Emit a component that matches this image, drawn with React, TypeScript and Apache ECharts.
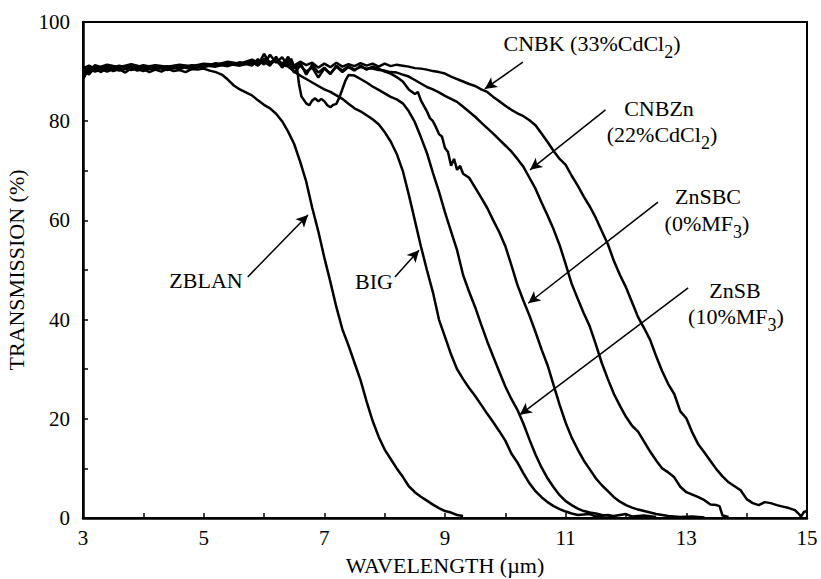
import React, { useEffect, useRef } from "react";
import * as echarts from "echarts";

type P = [number, number];

const X_TICKS = { min: 3, max: 15, interval: 2 };
const Y_TICKS = { min: 0, max: 100, interval: 20 };

const ZBLAN: P[] = [
  [3.0, 88.6], [3.05, 90.2], [3.1, 89.8], [3.2, 90.6], [3.3, 89.9], [3.4, 90.8], [3.5, 90.1], [3.6, 90.5],
  [3.7, 89.8], [3.8, 90.7], [3.9, 90.2], [4.0, 90.6], [4.1, 89.9], [4.2, 90.4], [4.3, 90.0], [4.4, 90.6],
  [4.5, 90.1], [4.6, 90.3], [4.7, 89.9], [4.8, 90.5], [4.9, 90.4], [5.0, 90.6], [5.1, 90.2], [5.2, 89.9],
  [5.3, 89.4], [5.4, 88.4], [5.5, 87.2], [5.6, 86.4], [5.7, 85.8], [5.8, 85.2], [5.9, 84.2], [6.0, 83.3],
  [6.1, 82.6], [6.2, 81.5], [6.3, 80.0], [6.4, 77.9], [6.5, 75.4], [6.6, 71.8], [6.7, 67.8], [6.8, 62.5],
  [6.9, 57.8], [7.0, 52.5], [7.1, 47.6], [7.2, 42.5], [7.3, 38.0], [7.4, 34.8], [7.5, 31.3], [7.6, 27.8],
  [7.7, 23.5], [7.8, 19.6], [7.9, 16.4], [8.0, 13.8], [8.1, 11.9], [8.2, 10.0], [8.3, 8.3], [8.4, 6.4],
  [8.5, 5.2], [8.6, 4.3], [8.7, 3.5], [8.8, 2.7], [8.9, 2.0], [9.0, 1.4], [9.1, 1.1], [9.2, 0.6], [9.3, 0.4],
];

const BIG: P[] = [
  [3.0, 89.0], [3.1, 90.8], [3.2, 90.3], [3.4, 91.0], [3.6, 90.4], [3.8, 91.1], [4.0, 90.6], [4.2, 91.2],
  [4.4, 90.7], [4.6, 91.1], [4.8, 90.8], [5.0, 91.3], [5.2, 91.0], [5.4, 91.6], [5.6, 91.2], [5.8, 91.8],
  [5.9, 91.3], [6.0, 92.2], [6.1, 91.5], [6.2, 92.6], [6.3, 91.4], [6.4, 91.0], [6.5, 90.0], [6.6, 89.2],
  [6.7, 88.5], [6.8, 87.8], [6.9, 87.1], [7.0, 86.4], [7.1, 85.9], [7.2, 85.2], [7.3, 84.5], [7.4, 83.5],
  [7.5, 82.6], [7.6, 82.0], [7.7, 81.2], [7.8, 80.4], [7.9, 79.4], [8.0, 77.8], [8.1, 75.9], [8.2, 73.4],
  [8.3, 70.0], [8.4, 65.2], [8.5, 60.0], [8.6, 54.8], [8.7, 50.0], [8.8, 45.5], [8.9, 40.0], [9.0, 36.5],
  [9.1, 33.0], [9.2, 30.0], [9.3, 28.0], [9.4, 26.2], [9.5, 24.6], [9.6, 22.8], [9.7, 21.0], [9.8, 19.3],
  [9.9, 17.5], [10.0, 15.6], [10.1, 13.0], [10.2, 11.2], [10.3, 9.0], [10.4, 7.0], [10.5, 5.4], [10.6, 4.2],
  [10.7, 3.2], [10.8, 2.4], [10.9, 1.8], [11.0, 1.3], [11.1, 0.9], [11.2, 0.6], [11.4, 0.8], [11.5, 0.3],
  [11.7, 0.6], [11.8, 0.2],
];

const ZNSB: P[] = [
  [3.0, 90.2], [3.1, 89.4], [3.2, 90.9], [3.4, 90.0], [3.6, 91.0], [3.8, 90.3], [4.0, 91.0], [4.2, 90.4],
  [4.4, 91.1], [4.6, 90.5], [4.8, 91.2], [5.0, 90.9], [5.2, 91.5], [5.4, 91.1], [5.6, 91.9], [5.8, 91.2],
  [5.9, 92.5], [6.0, 91.4], [6.1, 93.4], [6.2, 91.8], [6.3, 92.9], [6.4, 91.2], [6.45, 92.6], [6.5, 91.0],
  [6.55, 90.5], [6.58, 87.5], [6.62, 85.0], [6.7, 83.6], [6.75, 83.2], [6.8, 84.2], [6.85, 84.6], [6.9, 84.0],
  [6.95, 84.5], [7.0, 84.0], [7.05, 83.2], [7.1, 82.8], [7.15, 83.3], [7.2, 83.5], [7.25, 84.8], [7.3, 86.5],
  [7.35, 88.2], [7.4, 89.3], [7.5, 89.2], [7.6, 88.5], [7.7, 87.8], [7.8, 87.0], [7.9, 86.3], [8.0, 85.6],
  [8.1, 84.9], [8.2, 84.4], [8.3, 83.6], [8.4, 82.0], [8.5, 79.8], [8.6, 76.8], [8.7, 73.6], [8.8, 69.6],
  [8.9, 65.8], [9.0, 61.6], [9.1, 57.8], [9.2, 54.0], [9.3, 49.0], [9.4, 45.6], [9.5, 42.5], [9.6, 39.0],
  [9.7, 35.6], [9.8, 32.5], [9.9, 29.5], [10.0, 26.5], [10.1, 24.0], [10.2, 21.8], [10.3, 19.0], [10.4, 15.8],
  [10.5, 12.8], [10.6, 10.2], [10.7, 8.0], [10.8, 6.2], [10.9, 4.6], [11.0, 3.4], [11.1, 2.6], [11.2, 1.9],
  [11.3, 1.4], [11.4, 1.1], [11.5, 0.9], [11.6, 0.6], [11.8, 0.4], [12.0, 0.8], [12.1, 0.3], [12.3, 0.5],
  [12.5, 0.2],
];

const ZNSBC: P[] = [
  [3.0, 91.0], [3.1, 90.1], [3.2, 91.3], [3.4, 90.5], [3.6, 91.2], [3.8, 90.6], [4.0, 91.3], [4.2, 90.8],
  [4.4, 91.0], [4.6, 90.6], [4.8, 91.3], [5.0, 91.0], [5.2, 91.7], [5.4, 91.3], [5.6, 91.6], [5.8, 92.0],
  [5.9, 91.2], [6.0, 93.6], [6.1, 91.6], [6.2, 92.2], [6.3, 91.0], [6.4, 93.0], [6.5, 90.6], [6.6, 91.8],
  [6.7, 89.4], [6.8, 91.4], [6.9, 89.8], [7.0, 90.8], [7.1, 89.6], [7.2, 91.0], [7.3, 89.9], [7.4, 90.9],
  [7.5, 90.2], [7.6, 91.2], [7.7, 90.4], [7.8, 91.0], [7.9, 90.6], [8.0, 90.0], [8.1, 89.6], [8.2, 88.9],
  [8.3, 88.0], [8.4, 86.4], [8.5, 85.5], [8.55, 85.9], [8.6, 84.2], [8.7, 82.0], [8.75, 80.6], [8.8, 80.0],
  [8.85, 78.8], [8.9, 77.4], [8.95, 76.9], [9.0, 74.6], [9.05, 73.8], [9.1, 71.0], [9.15, 72.4], [9.2, 70.2],
  [9.25, 71.0], [9.3, 69.4], [9.4, 68.6], [9.5, 66.6], [9.6, 64.6], [9.7, 62.5], [9.8, 60.0], [9.9, 57.6],
  [10.0, 54.8], [10.1, 51.0], [10.2, 47.0], [10.3, 43.8], [10.4, 40.8], [10.5, 37.5], [10.6, 34.0], [10.7, 30.8],
  [10.8, 26.8], [10.9, 22.8], [11.0, 19.2], [11.1, 16.2], [11.2, 13.8], [11.3, 11.6], [11.4, 9.8], [11.5, 8.0],
  [11.6, 6.6], [11.7, 5.4], [11.8, 4.2], [11.9, 3.3], [12.0, 2.6], [12.1, 2.1], [12.2, 1.7], [12.3, 1.4],
  [12.4, 1.1], [12.5, 0.8], [12.6, 0.6], [12.7, 0.4], [12.9, 0.2], [13.1, 0.3], [13.3, 0.1],
];

const CNBZN: P[] = [
  [3.0, 88.5], [3.1, 90.6], [3.2, 90.0], [3.4, 90.9], [3.6, 90.2], [3.8, 90.8], [4.0, 90.1], [4.2, 90.9],
  [4.4, 90.3], [4.6, 91.0], [4.8, 90.5], [5.0, 91.1], [5.2, 91.3], [5.4, 91.8], [5.6, 91.4], [5.8, 92.3],
  [5.9, 91.6], [6.0, 92.0], [6.1, 91.2], [6.2, 93.0], [6.3, 90.8], [6.4, 92.0], [6.5, 89.8], [6.6, 91.2],
  [6.7, 90.0], [6.8, 90.8], [6.9, 88.8], [7.0, 90.6], [7.1, 89.5], [7.2, 91.2], [7.3, 90.2], [7.4, 91.1],
  [7.5, 90.4], [7.6, 90.9], [7.7, 90.6], [7.8, 90.6], [7.9, 90.3], [8.0, 90.2], [8.1, 89.9], [8.2, 89.8],
  [8.3, 89.4], [8.4, 89.0], [8.5, 88.3], [8.6, 87.6], [8.7, 86.9], [8.8, 86.4], [8.9, 85.8], [9.0, 85.1],
  [9.1, 84.5], [9.2, 83.9], [9.3, 82.9], [9.4, 81.9], [9.5, 80.9], [9.6, 79.7], [9.7, 78.6], [9.8, 77.5],
  [9.9, 76.3], [10.0, 75.1], [10.1, 73.9], [10.2, 72.4], [10.3, 70.8], [10.4, 68.6], [10.5, 66.4], [10.6, 63.6],
  [10.7, 61.0], [10.8, 58.2], [10.9, 55.0], [11.0, 51.2], [11.1, 47.2], [11.2, 44.2], [11.3, 41.3], [11.4, 38.6],
  [11.5, 35.0], [11.6, 31.2], [11.7, 28.0], [11.8, 25.0], [11.9, 22.6], [12.0, 20.4], [12.1, 18.6], [12.2, 17.4],
  [12.3, 15.4], [12.4, 13.4], [12.5, 11.6], [12.6, 10.0], [12.7, 9.2], [12.8, 8.2], [12.9, 6.3], [13.0, 5.2],
  [13.1, 4.7], [13.2, 4.2], [13.3, 3.6], [13.4, 2.7], [13.5, 2.6], [13.55, 2.4], [13.6, 0.5], [13.7, 0.2],
];

const CNBK: P[] = [
  [3.0, 90.6], [3.1, 91.2], [3.2, 90.6], [3.4, 91.4], [3.6, 90.9], [3.8, 91.5], [4.0, 90.9], [4.2, 91.3],
  [4.4, 91.0], [4.6, 91.4], [4.8, 91.1], [5.0, 91.6], [5.2, 91.4], [5.4, 92.0], [5.6, 91.6], [5.8, 92.4],
  [5.9, 91.8], [6.0, 92.6], [6.1, 91.9], [6.2, 92.4], [6.3, 91.7], [6.4, 92.2], [6.5, 91.2], [6.6, 92.0],
  [6.7, 91.3], [6.8, 91.8], [6.9, 90.8], [7.0, 91.6], [7.1, 90.9], [7.2, 91.8], [7.3, 91.0], [7.4, 91.5],
  [7.5, 91.1], [7.6, 91.7], [7.7, 91.2], [7.8, 91.6], [7.9, 91.0], [8.0, 91.6], [8.1, 91.1], [8.2, 91.4],
  [8.3, 91.2], [8.4, 91.0], [8.5, 90.7], [8.6, 90.6], [8.7, 90.4], [8.8, 90.1], [8.9, 89.9], [9.0, 89.6],
  [9.1, 89.0], [9.2, 88.5], [9.3, 88.0], [9.4, 87.5], [9.5, 87.1], [9.6, 86.4], [9.7, 85.9], [9.8, 84.9],
  [9.9, 84.0], [10.0, 83.1], [10.1, 82.3], [10.2, 81.6], [10.3, 81.0], [10.4, 80.2], [10.5, 79.2], [10.6, 77.5],
  [10.7, 75.8], [10.8, 74.0], [10.9, 72.4], [11.0, 71.2], [11.1, 69.0], [11.2, 67.0], [11.3, 64.8], [11.4, 62.8],
  [11.5, 60.5], [11.6, 57.8], [11.7, 55.2], [11.8, 51.8], [11.9, 49.0], [12.0, 46.5], [12.1, 43.5], [12.2, 40.5],
  [12.3, 38.3], [12.4, 35.9], [12.5, 32.6], [12.6, 29.6], [12.7, 27.0], [12.8, 25.0], [12.9, 21.5], [13.0, 20.1],
  [13.1, 17.2], [13.2, 14.8], [13.3, 13.2], [13.4, 11.5], [13.5, 9.8], [13.6, 8.4], [13.7, 7.2], [13.8, 6.4],
  [13.9, 5.6], [14.0, 3.8], [14.1, 3.0], [14.2, 2.6], [14.3, 3.2], [14.4, 3.0], [14.5, 2.6], [14.6, 2.3],
  [14.7, 2.0], [14.8, 1.6], [14.85, 1.0], [14.9, 0.3], [14.95, 1.2], [15.0, 1.4],
];

// arrow annotations in data coordinates: [fromX, fromY, toX, toY]
const ARROW_ZBLAN = [5.73, 48.6, 6.73, 61.1];
const ARROW_BIG = [8.17, 48.6, 8.57, 54.0];
const ARROW_ZNSB = [13.03, 46.4, 10.24, 20.8];
const ARROW_ZNSBC = [12.53, 63.7, 10.38, 43.3];
const ARROW_CNBZN = [11.66, 82.3, 10.41, 70.2];
const ARROW_CNBK = [10.29, 91.9, 9.66, 86.5];

const FONT = "'Liberation Serif', 'Times New Roman', serif";
const LABEL_SIZE = 22;
const SUB_SIZE = 18;

type Part = { t: string; sub?: boolean };
type Lbl = { cx: number; cy: number; parts: Part[] };

const LABELS: Lbl[] = [
  { cx: 206, cy: 280, parts: [{ t: "ZBLAN" }] },
  { cx: 374, cy: 281, parts: [{ t: "BIG" }] },
  { cx: 592, cy: 43, parts: [{ t: "CNBK (33%CdCl" }, { t: "2", sub: true }, { t: ")" }] },
  { cx: 659, cy: 108, parts: [{ t: "CNBZn" }] },
  { cx: 662, cy: 134, parts: [{ t: "(22%CdCl" }, { t: "2", sub: true }, { t: ")" }] },
  { cx: 708, cy: 196, parts: [{ t: "ZnSBC" }] },
  { cx: 707, cy: 223, parts: [{ t: "(0%MF" }, { t: "3", sub: true }, { t: ")" }] },
  { cx: 735, cy: 290, parts: [{ t: "ZnSB" }] },
  { cx: 736, cy: 316, parts: [{ t: "(10%MF" }, { t: "3", sub: true }, { t: ")" }] },
];

function measure(text: string, size: number): number {
  const c = document.createElement("canvas").getContext("2d");
  if (!c) return text.length * size * 0.5;
  c.font = `${size}px 'Liberation Serif'`;
  return c.measureText(text).width;
}

function buildLabelGraphics() {
  const els: any[] = [];
  LABELS.forEach((l) => {
    const widths = l.parts.map((p) => measure(p.t, p.sub ? SUB_SIZE : LABEL_SIZE));
    const total = widths.reduce((a, b) => a + b, 0);
    let x = l.cx - total / 2;
    l.parts.forEach((p, i) => {
      const size = p.sub ? SUB_SIZE : LABEL_SIZE;
      els.push({
        type: "text",
        x,
        y: l.cy + (p.sub ? 9 : 0),
        silent: true,
        style: {
          text: p.t,
          fill: "#000",
          fontSize: size,
          fontFamily: FONT,
          align: "left",
          textAlign: "left",
          verticalAlign: "middle",
          textVerticalAlign: "middle",
        },
      });
      x += widths[i];
    });
  });
  return els;
}

function arrowLine(a: number[]) {
  return [{ coord: [a[0], a[1]] }, { coord: [a[2], a[3]] }];
}

function makeSeries(name: string, data: P[], arrow: number[]) {
  return {
    name,
    type: "line",
    data,
    showSymbol: false,
    symbol: "none",
    smooth: false,
    lineStyle: { color: "#000", width: 2.5 },
    itemStyle: { color: "#000" },
    emphasis: { disabled: true },
    markLine: {
      silent: true,
      symbol: ["none", "arrow"],
      symbolSize: [9, 12],
      label: { show: false },
      lineStyle: { color: "#000", width: 1.5, type: "solid" },
      emphasis: { disabled: true },
      data: [arrowLine(arrow)],
    },
  };
}

export default function App() {
  const ref = useRef<HTMLDivElement>(null);
  useEffect(() => {
    if (!ref.current) return;
    const prevMargin = document.body.style.margin;
    document.body.style.margin = "0";
    const chart = echarts.init(ref.current, null, { renderer: "svg" });
    const axisText = { color: "#000", fontFamily: FONT, fontSize: 21 };
    const option: any = {
      animation: false,
      backgroundColor: "#fff",
      grid: {
        left: 83,
        right: 14,
        top: 22,
        bottom: 61,
        containLabel: false,
        outerBoundsMode: "none",
        show: true,
        borderColor: "#000",
        borderWidth: 2,
        backgroundColor: "transparent",
      },
      xAxis: {
        type: "value",
        min: X_TICKS.min,
        max: X_TICKS.max,
        interval: X_TICKS.interval,
        axisLine: { show: true, onZero: false, lineStyle: { color: "#000", width: 2.5 } },
        axisTick: { show: true, inside: true, length: 5, lineStyle: { color: "#000", width: 1.5 } },
        minorTick: { show: true, splitNumber: 2, length: 5, lineStyle: { color: "#000", width: 1.5 } },
        splitLine: { show: false },
        minorSplitLine: { show: false },
        axisLabel: { ...axisText, margin: 9 },
        name: "WAVELENGTH (µm)",
        nameLocation: "middle",
        nameGap: 36,
        nameTextStyle: { color: "#000", fontFamily: FONT, fontSize: 22 },
      },
      yAxis: {
        type: "value",
        min: Y_TICKS.min,
        max: Y_TICKS.max,
        interval: Y_TICKS.interval,
        axisLine: { show: true, onZero: false, lineStyle: { color: "#000", width: 2.5 } },
        axisTick: { show: true, inside: true, length: 5, lineStyle: { color: "#000", width: 1.5 } },
        minorTick: { show: true, splitNumber: 2, length: 5, lineStyle: { color: "#000", width: 1.5 } },
        splitLine: { show: false },
        minorSplitLine: { show: false },
        axisLabel: { ...axisText, margin: 13 },
        name: "TRANSMISSION (%)",
        nameLocation: "middle",
        nameGap: 51,
        nameTextStyle: { color: "#000", fontFamily: FONT, fontSize: 22 },
      },
      tooltip: { show: false },
      series: [
        makeSeries("ZBLAN", ZBLAN, ARROW_ZBLAN),
        makeSeries("BIG", BIG, ARROW_BIG),
        makeSeries("ZnSB", ZNSB, ARROW_ZNSB),
        makeSeries("ZnSBC", ZNSBC, ARROW_ZNSBC),
        makeSeries("CNBZn", CNBZN, ARROW_CNBZN),
        makeSeries("CNBK", CNBK, ARROW_CNBK),
      ],
      graphic: { elements: buildLabelGraphics() },
    };
    chart.setOption(option);
    return () => {
      chart.dispose();
      document.body.style.margin = prevMargin;
    };
  }, []);
  return <div ref={ref} style={{ width: 821, height: 579, background: "#fff" }} />;
}
